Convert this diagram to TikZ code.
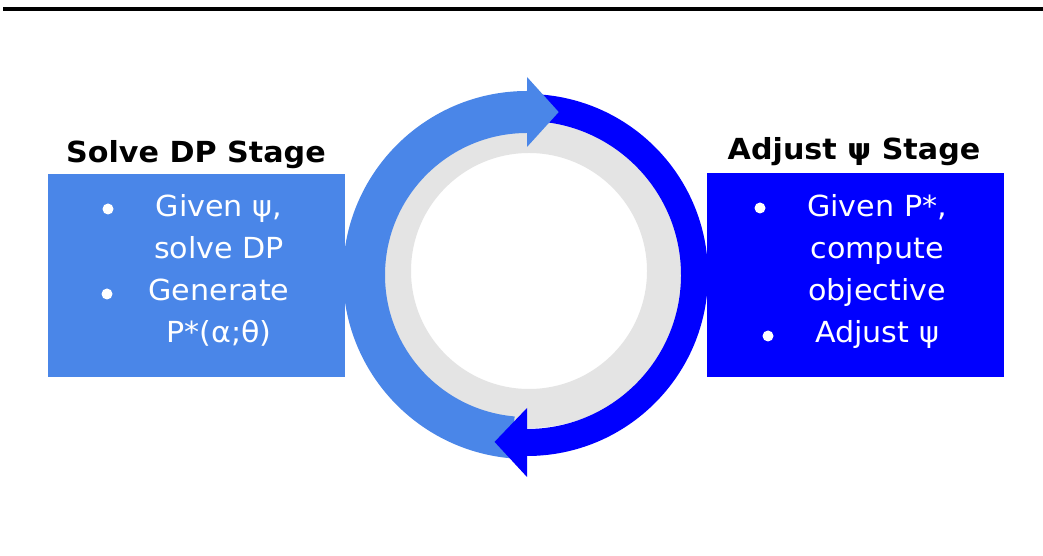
\documentclass[tikz,border=0pt]{standalone}
\usepackage{fontspec}
\newfontfamily\vfont[FakeStretch=1.04]{DejaVu Sans}
\definecolor{lightband}{HTML}{4A86E8}
\definecolor{darkband}{HTML}{0000FF}
\definecolor{ringgray}{HTML}{E4E4E4}
\begin{document}
\begin{tikzpicture}[x=1pt,y=1pt,
  stagebox/.style={rectangle, inner sep=0pt, minimum width=297pt, minimum height=203pt},
  heading/.style={anchor=base, font=\vfont\bfseries\fontsize{29}{32}\selectfont, text=black, inner sep=0pt},
  itemline/.style={anchor=base, font=\vfont\fontsize{29}{32}\selectfont, text=white, inner sep=0pt},
  bulletdot/.style={circle, fill=white, inner sep=0pt, minimum size=11pt}]
\useasboundingbox (0,0) rectangle (1043,556);
\fill[white] (0,0) rectangle (1043,556);
% top rule
\fill[black] (3,545) rectangle (1043,549);

% grey ring behind the cycle
\fill[ringgray, even odd rule] (529,285) circle (157) (529,285) circle (118);

\begin{scope}[shift={(527,281)}]
  % dark band shaft (right half)
  \fill[darkband] (88:154) arc[start angle=88, end angle=-90, radius=154]
    -- (-90:181) arc[start angle=-90, end angle=88, radius=181] -- cycle;
  % light band with its head at the top
  \fill[lightband] (265:142) arc[start angle=265, end angle=90, radius=142]
    -- (90:128) -- (79:166) -- (90:198) -- (90:184)
    arc[start angle=90, end angle=265, radius=184] -- cycle;
  % dark head at the bottom
  \fill[darkband] (-90:133) -- (-101:170) -- (-90:202) -- cycle;
\end{scope}

% left stage
\node[heading] (lefthead) at (196,393) {Solve DP Stage};
\node[stagebox, fill=lightband] (leftbox) at (196.5,280) {};
\node[bulletdot] (lb1) at (108,347) {};
\node[itemline] (l1) at (219,339) {Given ψ,};
\node[itemline] (l2) at (219,297) {solve DP};
\node[bulletdot] (lb2) at (107,262) {};
\node[itemline] (l3) at (219,255) {Generate};
\node[itemline] (l4) at (219,213) {P*(α;θ)};

% right stage
\node[heading] (righthead) at (854,396) {Adjust ψ Stage};
\node[stagebox, fill=darkband, minimum height=204pt] (rightbox) at (855,281) {};
\node[bulletdot] (rb1) at (760,348) {};
\node[itemline] (r1) at (877,339) {Given P*,};
\node[itemline] (r2) at (877,297) {compute};
\node[itemline] (r3) at (877,255) {objective};
\node[bulletdot] (rb2) at (768,220) {};
\node[itemline] (r4) at (877,213) {Adjust ψ};
\end{tikzpicture}
\end{document}
